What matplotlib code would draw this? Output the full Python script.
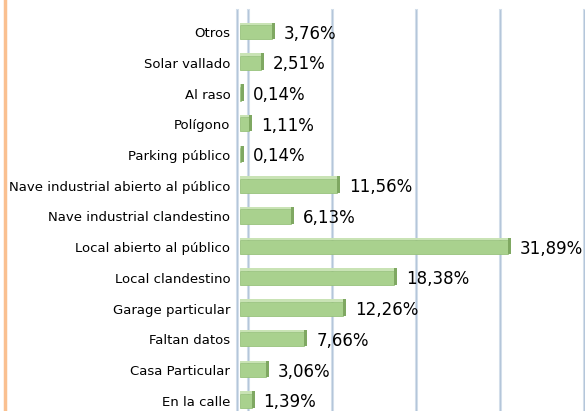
"""
Lugar de los hechos - barras horizontales estilo Excel 3D
"""

import numpy as np
import matplotlib.pyplot as plt
import matplotlib.transforms as mtrans

plt.close('all')

# datos (de abajo hacia arriba)
categories = ['En la calle', 'Casa Particular', 'Faltan datos', 'Garage particular',
              'Local clandestino', 'Local abierto al público',
              'Nave industrial clandestino', 'Nave industrial abierto al público',
              'Parking público', 'Polígono', 'Al raso', 'Solar vallado', 'Otros']
values = [1.39, 3.06, 7.66, 12.26, 18.38, 31.89, 6.13, 11.56, 0.14, 1.11, 0.14, 2.51, 3.76]
labels = ['1,39%', '3,06%', '7,66%', '12,26%', '18,38%', '31,89%', '6,13%',
          '11,56%', '0,14%', '1,11%', '0,14%', '2,51%', '3,76%']
grid_vals = [0, 10, 20, 30, 40]

W, H = 585, 411
fig = plt.figure(figsize=(W / 100, H / 100), dpi=100)
fig.patch.set_facecolor('white')

# borde naranja a la izquierda
fig.add_artist(plt.Line2D([5 / W, 5 / W], [0, 1], color='#FAC090', lw=2.5,
                          transform=fig.transFigure))

ax = fig.add_axes([240 / W, 0, 336 / W, 1 - 10 / H])
ax.set_xlim(0, 40)
ax.set_ylim(-0.33, len(categories) - 1 + 0.72)

# paredes/rejilla con desplazamiento de profundidad
depth = mtrans.ScaledTranslation(8 / 100, 0, fig.dpi_scale_trans)
front = mtrans.ScaledTranslation(-3 / 100, 0, fig.dpi_scale_trans)
xtr = ax.get_xaxis_transform()
for g in grid_vals:
    ax.plot([g, g], [0, 1], color='#D3DEEA', lw=2.2, zorder=0,
            transform=xtr + depth, clip_on=False)
    ax.plot([g, g], [0, 1], color='#B4C6DA', lw=0.7, zorder=0,
            transform=xtr + depth, clip_on=False)
ax.plot([0, 0], [0, 1], color='#D3DEEA', lw=2.2, zorder=0,
        transform=xtr + front, clip_on=False)
ax.plot([0, 0], [0, 1], color='#B4C6DA', lw=0.7, zorder=0,
        transform=xtr + front, clip_on=False)

y = np.arange(len(categories))
h = 0.46
# cara frontal
ax.barh(y, values, height=h, color='#A9D18E', edgecolor='#98C27C', lw=0.6, zorder=3)
# cara superior (mas clara)
ax.barh(y + h / 2 + 0.04, values, height=0.08, color='#C9E3B5', lw=0, zorder=3)
# cara lateral (mas oscura)
ax.barh(y + 0.04, [0.35] * len(values), left=values, height=h + 0.08,
        color='#7FA862', lw=0, zorder=3)

for yi, v, lab in zip(y, values, labels):
    ax.annotate(lab, (v, yi), xytext=(8.5, -1), textcoords='offset points',
                va='center', ha='left', fontsize=12, family='DejaVu Sans',
                color='black', zorder=4, annotation_clip=False)

ax.set_yticks(y)
ax.set_yticklabels(categories, fontsize=9.5, family='DejaVu Sans')
ax.tick_params(axis='y', length=0, pad=7)
ax.set_xticks([])
for s in ax.spines.values():
    s.set_visible(False)
ax.patch.set_alpha(0)

plt.savefig('out.png', dpi=100)
